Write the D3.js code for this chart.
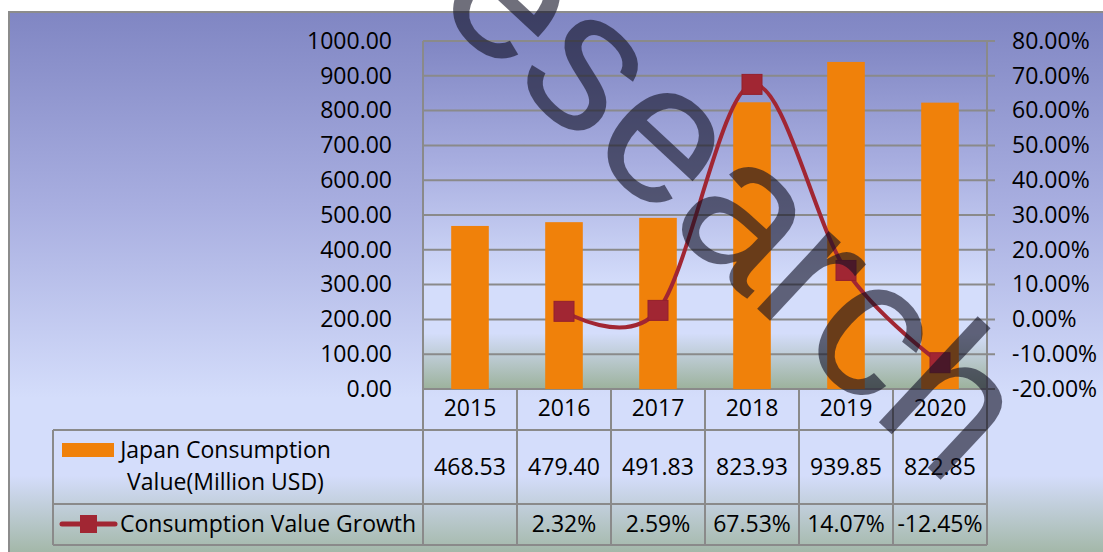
<!DOCTYPE html>
<html>
<head>
<meta charset="utf-8">
<script src="https://cdn.jsdelivr.net/npm/d3@7"></script>
<style>
  html, body { margin: 0; padding: 0; background: #ffffff; }
  svg { display: block; }
  text { font-family: "Open Sans", "Noto Sans", sans-serif; fill: #000; }
</style>
</head>
<body>
<svg id="chart" width="1103" height="552"></svg>
<script>
// ---- data ----
const years = ["2015", "2016", "2017", "2018", "2019", "2020"];
const consumptionValue = [468.53, 479.40, 491.83, 823.93, 939.85, 822.85];
const valueGrowth = [null, 2.32, 2.59, 67.53, 14.07, -12.45];
const leftTicks = [0, 100, 200, 300, 400, 500, 600, 700, 800, 900, 1000];
const rightTicks = [-20, -10, 0, 10, 20, 30, 40, 50, 60, 70, 80];
const seriesNames = ["Japan Consumption Value(Million USD)", "Consumption Value Growth"];

// ---- layout ----
const W = 1103, H = 552;
const plot = { left: 423, right: 987, top: 41, bottom: 389 };
const table = { left: 53, rowCat: 430, rowVal: 504, rowGrowth: 545 };
const gridColor = "#8a8a8a";
const barColor = "#f0810a";
const lineColor = "#a12633";
const fontSize = 23;

const svg = d3.select("#chart");
const defs = svg.append("defs");

function bgGradient(id) {
  const g = defs.append("linearGradient").attr("id", id)
    .attr("x1", 0).attr("y1", 0).attr("x2", 0).attr("y2", 1);
  [["0", "#8086c3"], ["0.35", "#a8aee0"], ["0.7", "#d4ddfb"], ["0.84", "#d4ddfb"], ["1", "#9cb29c"]]
    .forEach(([o, c]) => g.append("stop").attr("offset", o).attr("stop-color", c));
}
bgGradient("chartBg");
bgGradient("plotBg");

// chart area
svg.append("rect")
  .attr("x", 9).attr("y", 12).attr("width", W).attr("height", H)
  .attr("fill", "url(#chartBg)").attr("stroke", "#8c8c8c").attr("stroke-width", 2);

// plot area
svg.append("rect")
  .attr("x", plot.left).attr("y", plot.top)
  .attr("width", plot.right - plot.left).attr("height", plot.bottom - plot.top)
  .attr("fill", "url(#plotBg)");

// ---- scales ----
const x = d3.scaleBand().domain(years).range([plot.left, plot.right]).padding(0);
const yLeft = d3.scaleLinear().domain([0, 1000]).range([plot.bottom, plot.top]);
const yRight = d3.scaleLinear().domain([-20, 80]).range([plot.bottom, plot.top]);

// ---- gridlines ----
svg.append("g").selectAll("line").data(leftTicks).join("line")
  .attr("x1", plot.left).attr("x2", plot.right + 8)
  .attr("y1", d => yLeft(d)).attr("y2", d => yLeft(d))
  .attr("stroke", gridColor).attr("stroke-width", 2);

// ---- axes labels ----
const leftAxis = d3.axisLeft(yLeft).tickValues(leftTicks).tickSize(0).tickPadding(31)
  .tickFormat(d => d.toFixed(2));
const gL = svg.append("g").attr("transform", `translate(${plot.left},0)`).call(leftAxis);
gL.select(".domain").remove();
gL.selectAll("text").attr("font-size", fontSize).attr("font-family", null).attr("fill", "#000");

const rightAxis = d3.axisRight(yRight).tickValues(rightTicks).tickSize(0).tickPadding(25)
  .tickFormat(d => d.toFixed(2) + "%");
const gR = svg.append("g").attr("transform", `translate(${plot.right},0)`).call(rightAxis);
gR.select(".domain").remove();
gR.selectAll("text").attr("font-size", fontSize).attr("font-family", null).attr("fill", "#000");

// ---- bars ----
const barW = x.bandwidth() * 0.4;
svg.append("g").selectAll("rect").data(years).join("rect")
  .attr("x", d => x(d) + (x.bandwidth() - barW) / 2)
  .attr("y", (d, i) => yLeft(consumptionValue[i]))
  .attr("width", barW)
  .attr("height", (d, i) => yLeft(0) - yLeft(consumptionValue[i]))
  .attr("fill", barColor);

// ---- growth line (smoothed) ----
const pts = years.map((d, i) => ({ year: d, v: valueGrowth[i] })).filter(p => p.v !== null);
const line = d3.line()
  .x(p => x(p.year) + x.bandwidth() / 2)
  .y(p => yRight(p.v))
  .curve(d3.curveCardinal.tension(0));
svg.append("path").datum(pts).attr("d", line)
  .attr("fill", "none").attr("stroke", lineColor).attr("stroke-width", 4);
const mk = 20;
svg.append("g").selectAll("rect").data(pts).join("rect")
  .attr("x", p => x(p.year) + x.bandwidth() / 2 - mk / 2)
  .attr("y", p => yRight(p.v) - mk / 2)
  .attr("width", mk).attr("height", mk)
  .attr("fill", lineColor).attr("stroke", "#94202d").attr("stroke-width", 1);

// ---- data table ----
const tg = svg.append("g");
const hline = (x1, x2, y) => tg.append("line").attr("x1", x1).attr("x2", x2)
  .attr("y1", y).attr("y2", y).attr("stroke", gridColor).attr("stroke-width", 2);
const vline = (xx, y1, y2) => tg.append("line").attr("x1", xx).attr("x2", xx)
  .attr("y1", y1).attr("y2", y2).attr("stroke", gridColor).attr("stroke-width", 2);

hline(table.left, plot.right, table.rowCat);
hline(table.left, plot.right, table.rowVal);
hline(table.left, plot.right, table.rowGrowth);
vline(table.left, table.rowCat, table.rowGrowth);
vline(plot.left, plot.top, table.rowGrowth);
years.forEach(d => vline(x(d) + x.bandwidth(), d === years[years.length - 1] ? plot.top : plot.bottom, table.rowGrowth));

const cellText = (xx, yy, s, anchor) => tg.append("text")
  .attr("x", xx).attr("y", yy).attr("dy", "0.36em")
  .attr("text-anchor", anchor || "middle").attr("font-size", fontSize).text(s);

years.forEach((d, i) => {
  const cx = x(d) + x.bandwidth() / 2;
  cellText(cx, 408, d);
  cellText(cx, 467, consumptionValue[i].toFixed(2));
  if (valueGrowth[i] !== null) cellText(cx, 524, valueGrowth[i].toFixed(2) + "%");
});

// legend keys
tg.append("rect").attr("x", 62).attr("y", 443).attr("width", 52).attr("height", 14).attr("fill", barColor);
cellText(225.5, 450, "Japan Consumption");
cellText(225.5, 482, "Value(Million USD)");
tg.append("line").attr("x1", 62).attr("x2", 115).attr("y1", 524).attr("y2", 524)
  .attr("stroke", lineColor).attr("stroke-width", 5).attr("stroke-linecap", "round");
tg.append("rect").attr("x", 80).attr("y", 515).attr("width", 17).attr("height", 18).attr("fill", lineColor);
cellText(120, 524, seriesNames[1], "start");

// ---- watermark ----
svg.append("text")
  .attr("transform", "translate(381,-42) rotate(43)")
  .attr("font-size", 200)
  .style("font-family", "'Liberation Sans', Arial, sans-serif")
  .style("fill", "rgba(15,15,35,0.6)")
  .text("research");
</script>
</body>
</html>
